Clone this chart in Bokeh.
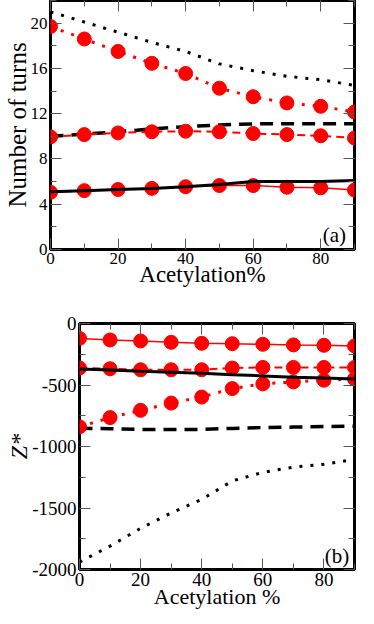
from bokeh.plotting import figure
from bokeh.models import Range1d, LinearAxis, SingleIntervalTicker, Label, PrintfTickFormatter
from bokeh.embed import file_html
from bokeh.resources import INLINE

# ---------------- data ----------------
acetylation = [0, 10, 20, 30, 40, 50, 60, 70, 80, 90]

# panel (a): number of turns
turns_black_dotted = [21.0, 20.1, 19.2, 18.3, 17.5, 16.4, 15.8, 15.3, 15.0, 14.5]
turns_red_dotted = [19.7, 18.6, 17.5, 16.45, 15.55, 14.25, 13.5, 12.95, 12.65, 12.15]
turns_black_dashed = [10.0, 10.2, 10.4, 10.65, 10.85, 11.0, 11.1, 11.1, 11.1, 11.1]
turns_red_dashed = [9.95, 10.15, 10.3, 10.4, 10.45, 10.4, 10.25, 10.15, 10.05, 9.85]
turns_black_solid = [5.1, 5.2, 5.3, 5.4, 5.55, 5.75, 6.0, 6.0, 6.0, 6.1]
turns_red_solid = [5.05, 5.2, 5.3, 5.4, 5.55, 5.65, 5.65, 5.5, 5.45, 5.25]

# panel (b): Z*
z_red_solid = [-121, -134, -142, -153, -161, -164, -169, -174, -177, -182]
z_red_dashed = [-362, -368, -376, -376, -376, -362, -357, -357, -357, -357]
z_black_solid = [-370, -378, -388, -396, -405, -416, -426, -436, -444, -451]
z_red_dotted = [-840, -765, -706, -647, -598, -529, -491, -475, -461, -451]
z_black_dashed = [-851, -856, -861, -862, -861, -853, -846, -842, -838, -835]
z_black_dotted = [-1940, -1810, -1665, -1540, -1430, -1280, -1210, -1168, -1145, -1105]

FONT = "'Liberation Serif', serif"


def style_axis(ax, size, show):
    ax.axis_line_color = None
    ax.major_tick_in = 11
    ax.major_tick_out = 0
    ax.minor_tick_in = 6
    ax.minor_tick_out = 0
    ax.major_tick_line_color = "#555555"
    ax.minor_tick_line_color = "#555555"
    ax.major_label_text_font = FONT
    ax.axis_label_text_font = FONT
    ax.axis_label_text_font_style = "normal"
    ax.axis_label_text_color = "black"
    ax.formatter = PrintfTickFormatter(format="%d")
    if show:
        ax.major_label_text_color = "black"
        ax.major_label_text_font_size = f"{size}px"
        ax.major_label_standoff = 3
    else:
        ax.major_label_text_color = None
        ax.major_label_text_font_size = "1px"
        ax.major_label_standoff = 0


def make_fig(height, min_top, min_left, y0, y1, yint, xsize, ysize):
    p = figure(width=358, height=height, output_backend="svg", toolbar_location=None,
               x_range=Range1d(0, 90), y_range=Range1d(y0, y1),
               min_border_left=min_left, min_border_right=4, min_border_top=min_top,
               min_border_bottom=0)
    p.add_layout(LinearAxis(ticker=SingleIntervalTicker(interval=20, num_minor_ticks=2)), "above")
    p.add_layout(LinearAxis(ticker=SingleIntervalTicker(interval=yint, num_minor_ticks=2)), "right")
    p.below[0].ticker = SingleIntervalTicker(interval=20, num_minor_ticks=2)
    p.left[0].ticker = SingleIntervalTicker(interval=yint, num_minor_ticks=2)
    style_axis(p.below[0], xsize, True)
    style_axis(p.left[0], ysize, True)
    style_axis(p.above[0], 0, False)
    style_axis(p.right[0], 0, False)
    p.grid.visible = False
    p.outline_line_color = "black"
    p.outline_line_width = 3
    p.outline_line_alpha = 1
    p.background_fill_color = "white"
    p.border_fill_color = "white"
    return p


# ---------------- panel (a) ----------------
p1 = make_fig(289, 0, 41, 0, 22, 4, 17, 17)
xa = p1.below[0]
xa.axis_label = "Acetylation%"
xa.axis_label_text_font_size = "23px"
xa.axis_label_standoff = -5
ya = p1.left[0]
ya.axis_label = "Number of turns"
ya.axis_label_text_font_size = "25px"
ya.axis_label_standoff = -3

p1.line(acetylation, turns_black_dotted, color="black", line_width=3, line_dash="3 8")
p1.line(acetylation, turns_red_dotted, color="red", line_width=3, line_dash="3 8")
p1.line(acetylation, turns_black_dashed, color="black", line_width=3.5, line_dash="13 8")
p1.line(acetylation, turns_red_dashed, color="red", line_width=2, line_dash="8 5")
p1.line(acetylation, turns_red_solid, color="red", line_width=1.5)
for ys in (turns_red_dotted, turns_red_dashed, turns_red_solid):
    p1.scatter(acetylation, ys, size=14, color="red", line_color="red")
p1.line(acetylation, turns_black_solid, color="black", line_width=3)

p1.add_layout(Label(x=87.5, y=0.2, text="(a)", text_align="right", text_baseline="bottom",
                    text_font=FONT, text_font_size="21px", text_color="black"))

# ---------------- panel (b) ----------------
p2 = make_fig(322, 34, 79, -2000, 0, 500, 19, 19)
xb = p2.below[0]
xb.axis_label = "Acetylation %"
xb.axis_label_text_font_size = "22px"
xb.axis_label_standoff = -5
yb = p2.left[0]
yb.axis_label = "Z*"
yb.axis_label_text_font_size = "24px"
yb.axis_label_text_font_style = "italic"
yb.axis_label_standoff = -3

p2.line(acetylation, z_black_dotted, color="black", line_width=3, line_dash="3 8")
p2.line(acetylation, z_red_dotted, color="red", line_width=3, line_dash="3 8")
p2.line(acetylation, z_black_dashed, color="black", line_width=3.5, line_dash="13 8")
p2.line(acetylation, z_red_dashed, color="red", line_width=2, line_dash="8 5")
p2.line(acetylation, z_red_solid, color="red", line_width=1.5)
for ys in (z_red_solid, z_red_dashed, z_red_dotted):
    p2.scatter(acetylation, ys, size=14, color="red", line_color="red")
p2.line(acetylation, z_black_solid, color="black", line_width=3)

p2.add_layout(Label(x=88.3, y=-1990, text="(b)", text_align="right", text_baseline="bottom",
                    text_font=FONT, text_font_size="21px", text_color="black"))

open("out.html", "w").write(file_html([p1, p2], INLINE))
